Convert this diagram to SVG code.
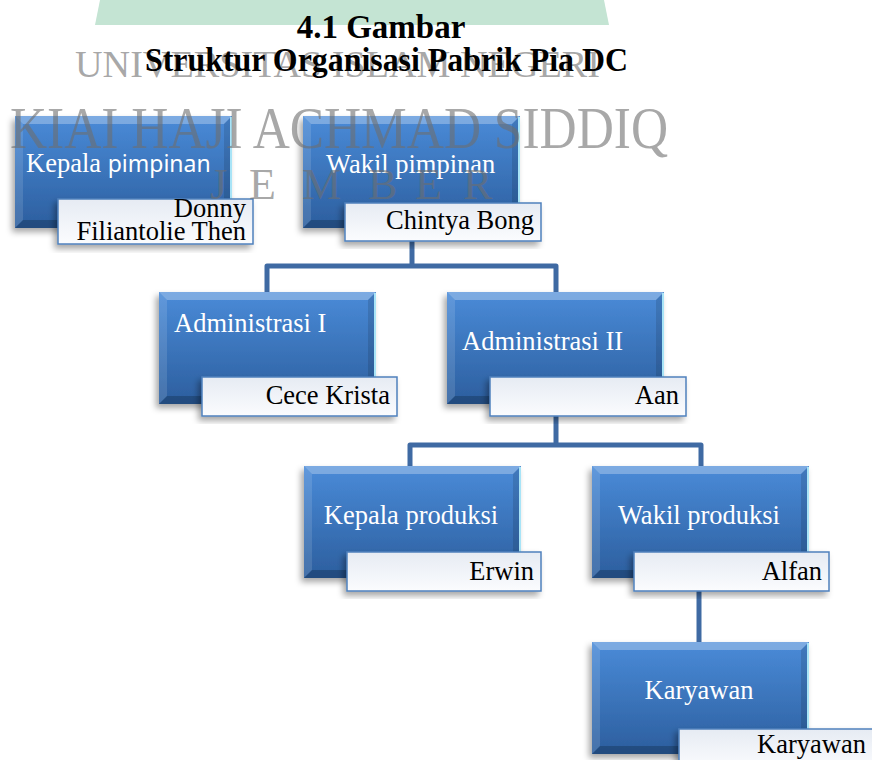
<svg xmlns="http://www.w3.org/2000/svg" xmlns:xlink="http://www.w3.org/1999/xlink" width="872" height="760" viewBox="0 0 872 760">
<defs>
<style>
.t{font-family:"Liberation Serif","Times New Roman",serif;font-size:26.5px;fill:#ffffff}
.n{font-family:"Liberation Serif","Times New Roman",serif;font-size:26.5px;fill:#000000;text-anchor:end}
.ttl{font-family:"Liberation Serif","Times New Roman",serif;font-size:33px;font-weight:bold;fill:#000000}
.wm{font-family:"Liberation Serif","Times New Roman",serif;fill:#6e6e6e;fill-opacity:0.6}
.conn{fill:none;stroke:#3f6aa3;stroke-width:5;stroke-linejoin:round;stroke-linecap:butt}
.nb{fill:url(#nameg);stroke:#4f81bd;stroke-width:1.5}
</style>
<linearGradient id="blueg" x1="0" y1="0" x2="0" y2="1">
<stop offset="0" stop-color="#4a8bd8"/>
<stop offset="1" stop-color="#2c5e9e"/>
</linearGradient>
<linearGradient id="nameg" x1="0" y1="0" x2="0" y2="1">
<stop offset="0" stop-color="#e6ebf3"/>
<stop offset="1" stop-color="#fbfcfe"/>
</linearGradient>
<filter id="sh" x="-10%" y="-10%" width="125%" height="130%">
<feDropShadow dx="-3" dy="4" stdDeviation="3" flood-color="#000" flood-opacity="0.35"/>
</filter>
<g id="box">
<rect x="0" y="0" width="217" height="112" fill="url(#blueg)"/>
<polygon points="0,0 217,0 209,8 8,8" fill="#ffffff" fill-opacity="0.28"/>
<polygon points="0,0 8,8 8,104 0,112" fill="#ffffff" fill-opacity="0.12"/>
<polygon points="217,0 217,112 209,104 209,8" fill="#000000" fill-opacity="0.12"/>
<polygon points="0,112 8,104 209,104 217,112" fill="#000000" fill-opacity="0.2"/>
<line x1="216" y1="1" x2="216" y2="111" stroke="#a8e4f7" stroke-width="2"/>
</g>
</defs>
<rect width="872" height="760" fill="#ffffff"/>
<polygon points="100,0 604,0 609,25 95,25" fill="#c4e4d3"/>

<g id="connectors">
<path class="conn" d="M412 241 V266"/>
<path class="conn" d="M267 293 V266 H556 V293"/>
<path class="conn" d="M556 416 V445"/>
<path class="conn" d="M410 467 V445 H701 V467"/>
<path class="conn" d="M699 591 V643"/>
</g>

<g id="node-kepala-pimpinan">
<use xlink:href="#box" x="15" y="116" filter="url(#sh)"/>
<text class="t" x="26" y="172">Kepala <tspan style="font-family:'Noto Sans','Liberation Sans',sans-serif;font-size:23px">pimpinan</tspan></text>
<rect class="nb" x="58" y="199" width="195" height="45" filter="url(#sh)"/>
<text class="n" x="246" y="217">Donny</text>
<text class="n" x="246" y="240">Filiantolie Then</text>
</g>

<g id="node-wakil-pimpinan">
<use xlink:href="#box" x="303" y="116" filter="url(#sh)"/>
<text class="t" x="326" y="173">Wakil pimpinan</text>
<rect class="nb" x="345" y="203" width="196" height="38" filter="url(#sh)"/>
<text class="n" x="534" y="229">Chintya Bong</text>
</g>

<g id="node-administrasi-1">
<use xlink:href="#box" x="159" y="292" filter="url(#sh)"/>
<text class="t" x="174" y="332">Administrasi I</text>
<rect class="nb" x="202" y="377" width="195" height="39" filter="url(#sh)"/>
<text class="n" x="390" y="404">Cece Krista</text>
</g>

<g id="node-administrasi-2">
<use xlink:href="#box" x="447" y="292" filter="url(#sh)"/>
<text class="t" x="462" y="350">Administrasi II</text>
<rect class="nb" x="490" y="377" width="196" height="39" filter="url(#sh)"/>
<text class="n" x="679" y="404">Aan</text>
</g>

<g id="node-kepala-produksi">
<use xlink:href="#box" x="304" y="466" filter="url(#sh)"/>
<text class="t" x="411" y="524" text-anchor="middle">Kepala produksi</text>
<rect class="nb" x="347" y="552" width="194" height="39" filter="url(#sh)"/>
<text class="n" x="534" y="580">Erwin</text>
</g>

<g id="node-wakil-produksi">
<use xlink:href="#box" x="592" y="466" filter="url(#sh)"/>
<text class="t" x="699" y="524" text-anchor="middle">Wakil produksi</text>
<rect class="nb" x="634" y="552" width="195" height="39" filter="url(#sh)"/>
<text class="n" x="822" y="580">Alfan</text>
</g>

<g id="node-karyawan">
<use xlink:href="#box" x="592" y="642" filter="url(#sh)"/>
<text class="t" x="699" y="699" text-anchor="middle">Karyawan</text>
<rect class="nb" x="679" y="729" width="200" height="40" filter="url(#sh)"/>
<text class="n" x="866" y="753">Karyawan</text>
</g>

<g id="watermark">
<text class="wm" x="75" y="77" font-size="38" textLength="525" lengthAdjust="spacingAndGlyphs">UNIVERSITAS ISLAM NEGERI</text>
<text class="wm" x="10" y="148" font-size="60" textLength="658" lengthAdjust="spacingAndGlyphs">KIAI HAJI ACHMAD SIDDIQ</text>
<text class="wm" font-size="44" y="199"><tspan x="210">J</tspan><tspan x="249">E</tspan><tspan x="302">M</tspan><tspan x="368">B</tspan><tspan x="415">E</tspan><tspan x="463">R</tspan></text>
</g>

<g id="title">
<text class="ttl" x="381" y="38" text-anchor="middle">4.1 Gambar</text>
<text class="ttl" x="145" y="71" textLength="483" lengthAdjust="spacingAndGlyphs">Struktur Organisasi Pabrik Pia DC</text>
</g>
</svg>
